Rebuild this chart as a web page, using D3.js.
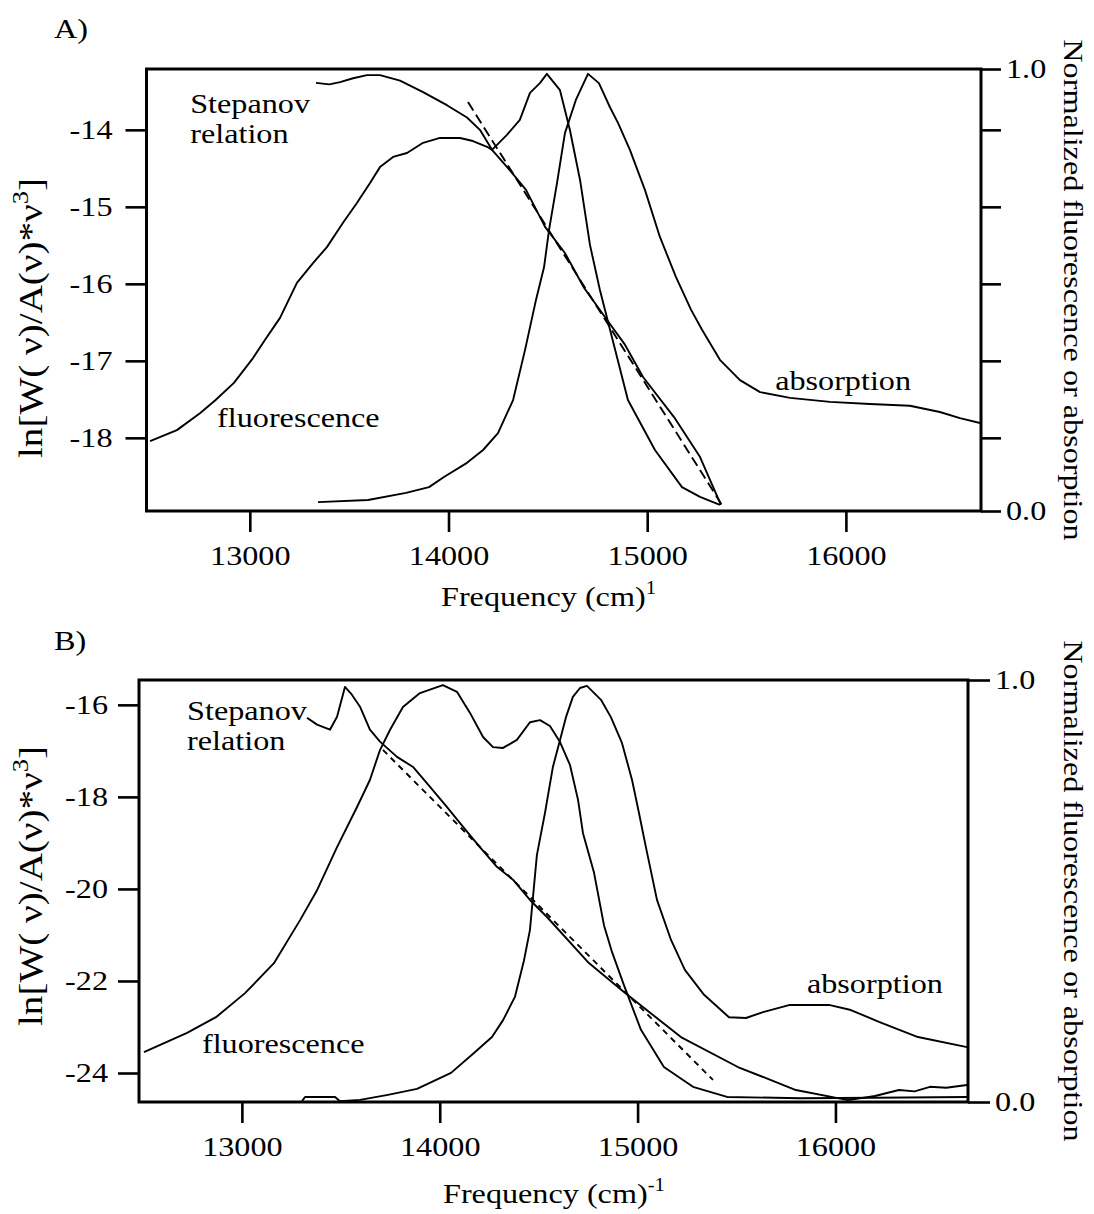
<!DOCTYPE html>
<html>
<head>
<meta charset="utf-8">
<script src="https://cdn.jsdelivr.net/npm/d3@7"></script>
<style>
  body { margin: 0; background: #fff; }
  svg text { font-family: "Liberation Serif", "Times New Roman", serif; fill: #000; }
</style>
</head>
<body>
<div id="chart"></div>
<script>
// ---- data: [frequency cm^-1, value] ----
const freqTicks = [13000, 14000, 15000, 16000];
const lnTicksA = [-18, -17, -16, -15, -14];
const lnTicksB = [-24, -22, -20, -18, -16];
const normTicks = [0, 1];

// panel A, ln[W/A*v^3] (left axis)
const stepanovA = [[13333,-13.39],[13400,-13.41],[13454,-13.38],[13520,-13.33],[13590,-13.29],[13655,-13.29],
  [13756,-13.36],[13872,-13.51],[13992,-13.68],[14093,-13.84],[14158,-14.00],[14219,-14.26],[14294,-14.48],
  [14390,-14.78],[14486,-15.26],[14586,-15.60],[14682,-16.05],[14798,-16.47],[14888,-16.79],[14979,-17.21],
  [15135,-17.73],[15266,-18.25],[15371,-18.87]];
const fitA = [[14098,-13.64],[15376,-18.87]];
// panel A, normalized spectra (right axis)
const fluorA = [[12498,0.158],[12633,0.183],[12749,0.221],[12825,0.250],[12920,0.290],[13016,0.346],[13076,0.387],
  [13152,0.437],[13237,0.516],[13318,0.561],[13388,0.597],[13469,0.652],[13539,0.697],[13605,0.742],[13655,0.778],
  [13721,0.801],[13791,0.810],[13872,0.833],[13957,0.844],[14058,0.844],[14123,0.837],[14194,0.824],[14219,0.817],
  [14294,0.851],[14359,0.885],[14410,0.946],[14460,0.968],[14495,0.989],[14561,0.952],[14611,0.862],[14662,0.749],
  [14712,0.602],[14762,0.500],[14813,0.410],[14903,0.251],[15039,0.138],[15175,0.054],[15266,0.032],[15366,0.014]];
const absA = [[13343,0.020],[13595,0.025],[13786,0.041],[13902,0.054],[13977,0.077],[14093,0.109],[14174,0.138],
  [14249,0.176],[14325,0.251],[14385,0.364],[14440,0.477],[14481,0.552],[14506,0.636],[14546,0.742],[14586,0.855],
  [14641,0.930],[14702,0.989],[14757,0.968],[14812,0.914],[14853,0.878],[14913,0.817],[14989,0.726],[15064,0.620],
  [15145,0.529],[15221,0.455],[15276,0.410],[15366,0.342],[15467,0.296],[15568,0.269],[15719,0.256],[15920,0.247],
  [16121,0.242],[16322,0.238],[16473,0.224],[16574,0.210],[16675,0.199]];

// panel B
const stepanovB = [[13329,-16.28],[13380,-16.43],[13445,-16.54],[13481,-16.26],[13521,-15.61],[13556,-15.78],
  [13597,-16.04],[13647,-16.54],[13698,-16.80],[13784,-17.13],[13865,-17.35],[13951,-17.78],[14037,-18.22],
  [14118,-18.65],[14203,-19.09],[14289,-19.52],[14370,-19.80],[14456,-20.24],[14542,-20.61],[14754,-21.61],
  [14931,-22.24],[15219,-23.22],[15507,-23.87],[15800,-24.37],[16063,-24.59],[16200,-24.50],[16321,-24.37],
  [16400,-24.40],[16478,-24.30],[16560,-24.32],[16665,-24.26]];
const fitB = [[13713,-16.98],[15381,-24.15]];
const fluorB = [[12505,0.118],[12723,0.164],[12869,0.201],[13016,0.258],[13162,0.329],[13294,0.431],[13380,0.502],
  [13481,0.604],[13582,0.699],[13647,0.763],[13698,0.834],[13749,0.882],[13814,0.936],[13900,0.969],[14016,0.988],
  [14087,0.972],[14153,0.922],[14219,0.865],[14269,0.841],[14320,0.839],[14390,0.858],[14456,0.900],[14507,0.905],
  [14557,0.891],[14608,0.853],[14658,0.799],[14699,0.716],[14724,0.637],[14780,0.543],[14830,0.419],[14871,0.355],
  [14931,0.277],[15017,0.171],[15133,0.083],[15280,0.036],[15452,0.012],[15821,0.009],[16200,0.010],[16665,0.012]];
const absB = [[13304,0.002],[13319,0.012],[13471,0.012],[13496,0.002],[13597,0.005],[13738,0.017],[13885,0.031],
  [14057,0.069],[14173,0.116],[14264,0.154],[14320,0.194],[14380,0.249],[14426,0.336],[14456,0.408],[14491,0.585],
  [14532,0.685],[14572,0.794],[14608,0.858],[14638,0.912],[14673,0.960],[14709,0.981],[14744,0.986],[14815,0.953],
  [14865,0.912],[14921,0.851],[14972,0.763],[15007,0.685],[15042,0.604],[15098,0.479],[15169,0.384],[15239,0.313],
  [15336,0.254],[15462,0.201],[15548,0.199],[15634,0.213],[15770,0.230],[15967,0.230],[16078,0.218],[16220,0.190],
  [16417,0.154],[16665,0.130]];

// labels placed in data units of the left axis
const notesA = [["Stepanov", 12700, -13.78], ["relation", 12700, -14.17], ["fluorescence", 12835, -17.86], ["absorption", 15644, -17.38]];
const notesB = [["Stepanov", 12723, -16.33], ["relation", 12723, -16.98], ["fluorescence", 12798, -23.57], ["absorption", 15856, -22.26]];

const FS = 28, SX = 1.15; // scanned type is a bit wider than Liberation Serif

const svg = d3.select("#chart").append("svg").attr("width", 1094).attr("height", 1214);

const put = (g, txt, x, y, rot = 0, anchor = "start", size = FS) =>
  g.append("text")
    .attr("transform", `translate(${x},${y}) rotate(${rot}) scale(${SX},1)`)
    .attr("text-anchor", anchor)
    .attr("font-size", size)
    .text(txt);

const styleAxis = (a, gap, side) => {
  a.attr("font-family", null).attr("font-size", null);
  a.select(".domain").remove();
  a.selectAll(".tick line").attr("stroke", "#000").attr("stroke-width", 2.6);
  const t = a.selectAll(".tick text").attr("font-size", FS).attr("fill", "#000");
  if (side === "left") t.attr("x", 0).attr("transform", `translate(${-gap},0) scale(${SX},1)`);
  if (side === "right") t.attr("x", 0).attr("transform", `translate(${gap},0) scale(${SX},1)`);
  if (side === "bottom") t.attr("transform", `scale(${SX},1)`);
};

function drawPanel(p) {
  const x = d3.scaleLinear().domain(p.xDomain).range([p.left, p.right]);
  const yL = d3.scaleLinear().domain(p.yDomain).range([p.bottom, p.top]);
  const yR = d3.scaleLinear().domain([0, 1]).range([p.bottom, p.top]);
  const g = svg.append("g").attr("class", "panel-" + p.name);

  // axes
  g.append("g").attr("transform", `translate(0,${p.bottom})`)
    .call(d3.axisBottom(x).tickValues(freqTicks).tickFormat(d3.format("d")).tickSize(21).tickPadding(13))
    .call(a => styleAxis(a, 0, "bottom"));

  g.append("g").attr("transform", `translate(${p.left},0)`)
    .call(d3.axisLeft(yL).tickValues(p.lnTicks).tickFormat(d => String(d)).tickSize(21))
    .call(a => styleAxis(a, p.leftGap, "left"));

  if (p.rightMinor) {
    g.append("g").attr("transform", `translate(${p.right},0)`)
      .call(d3.axisRight(yL).tickValues(p.lnTicks).tickFormat("").tickSize(p.rightTick))
      .call(a => styleAxis(a, 0, "none"));
  }
  g.append("g").attr("transform", `translate(${p.right},0)`)
    .call(d3.axisRight(yR).tickValues(normTicks).tickFormat(d3.format(".1f")).tickSize(p.rightTick))
    .call(a => styleAxis(a, p.rightTick + 5, "right"));

  g.append("rect")
    .attr("x", p.left).attr("y", p.top)
    .attr("width", p.right - p.left).attr("height", p.bottom - p.top)
    .attr("fill", "none").attr("stroke", "#000").attr("stroke-width", 3);

  // curves
  const lineL = d3.line().x(d => x(d[0])).y(d => yL(d[1]));
  const lineR = d3.line().x(d => x(d[0])).y(d => yR(d[1]));
  const curves = [
    { d: p.stepanov, gen: lineL },
    { d: p.fit, gen: lineL, dash: p.dash },
    { d: p.fluor, gen: lineR },
    { d: p.abs, gen: lineR }
  ];
  g.selectAll("path.curve")
    .data(curves)
    .join("path")
    .attr("class", "curve")
    .attr("d", c => c.gen(c.d))
    .attr("fill", "none")
    .attr("stroke", "#000")
    .attr("stroke-width", 1.9)
    .attr("stroke-linejoin", "round")
    .attr("stroke-dasharray", c => c.dash || null);

  // annotations
  p.notes.forEach(([t, fx, fy]) => put(g, t, x(fx), yL(fy)));

  put(g, p.name + ")", 54, p.top - p.panelLabelUp);

  // axis titles
  const xt = put(g, "Frequency (cm)", p.titleX, p.titleY);
  xt.append("tspan").attr("dy", -12).attr("font-size", 18).text(p.exponent);

  const cy = (p.top + p.bottom) / 2;
  const yt = put(g, "ln[W( ν)/A(ν)*ν", 42, p.yTitleY, -90, "middle", 34);
  yt.append("tspan").attr("dy", -14).attr("font-size", 23).text("3");
  yt.append("tspan").attr("dy", 14).text("]");

  put(g, "Normalized fluorescence or absorption", 1064, cy, 90, "middle");
}

drawPanel({
  name: "A", left: 146.5, right: 981, top: 69, bottom: 511,
  xDomain: [12480, 16680], yDomain: [-18.95, -13.21], lnTicks: lnTicksA,
  leftGap: 34, rightTick: 20, rightMinor: true, panelLabelUp: 31,
  titleX: 441, titleY: 606, exponent: "1", yTitleY: 318,
  stepanov: stepanovA, fit: fitA, fluor: fluorA, abs: absA, dash: "10,5", notes: notesA
});

drawPanel({
  name: "B", left: 139, right: 968, top: 680, bottom: 1102,
  xDomain: [12480, 16670], yDomain: [-24.63, -15.46], lnTicks: lnTicksB,
  leftGap: 31, rightTick: 22, rightMinor: false, panelLabelUp: 30,
  titleX: 443, titleY: 1203, exponent: "-1", yTitleY: 886,
  stepanov: stepanovB, fit: fitB, fluor: fluorB, abs: absB, dash: "6,5", notes: notesB
});
</script>
</body>
</html>
